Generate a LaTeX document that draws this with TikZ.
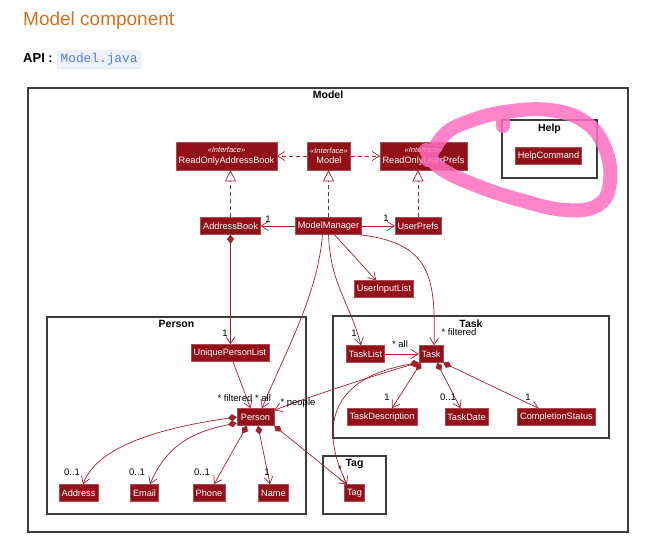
\documentclass[tikz,border=0pt]{standalone}
\usepackage{fontspec}
\setmainfont{Liberation Sans}
\setmonofont{Liberation Mono}
\usetikzlibrary{arrows.meta}

\definecolor{umlfill}{HTML}{911019}
\definecolor{umlline}{HTML}{A3202C}
\definecolor{pkgline}{HTML}{3C3C3C}
\definecolor{headorange}{HTML}{D9701E}
\definecolor{codeblue}{HTML}{4F7FDD}
\definecolor{codebg}{HTML}{EEF1FA}
\definecolor{codeframe}{HTML}{D9DEF0}
\definecolor{marker}{HTML}{FF6FBF}

\newcommand{\stereo}{{\fontsize{7.5}{8.5}\selectfont\itshape «Interface»}}

\tikzset{
  cls/.style={draw=umlfill!75!white, line width=0.5pt, fill=umlfill, text=white,
    font=\fontsize{9.2}{10.5}\selectfont, inner xsep=2.5pt, inner ysep=0pt, minimum height=17pt},
  iface/.style={cls, align=center, minimum height=28pt},
  pkg/.style={draw=pkgline, line width=1.2pt, inner sep=0pt},
  pkgtitle/.style={font=\bfseries\fontsize{10.5}{12}\selectfont, anchor=north, inner sep=1pt},
  mult/.style={font=\fontsize{9.5}{10}\selectfont, inner sep=0pt},
  assoc/.style={draw=umlline, line width=0.7pt, -{Straight Barb[length=7pt,width=9pt]}},
  comp/.style={assoc, {Diamond[length=9pt,width=7pt]}-{Straight Barb[length=7pt,width=9pt]}},
  dep/.style={assoc, dash pattern=on 4pt off 3pt},
  realize/.style={draw=umlline, line width=0.7pt, dash pattern=on 4pt off 3pt,
    -{Triangle[open,length=11pt,width=11pt]}},
}

\begin{document}
\begin{tikzpicture}[x=1pt,y=-1pt]
\useasboundingbox (0,0) rectangle (655,551);

% page header
\node[anchor=base west, inner sep=0pt, text=headorange, font=\fontsize{19}{22}\selectfont] (heading) at (23,26) {Model component};
\node[anchor=base west, inner sep=0pt, font=\bfseries\fontsize{13}{15}\selectfont] (api) at (23,63) {API :};
\node[anchor=base west, draw=codeframe, fill=codebg, rounded corners=2pt, text=codeblue,
  font=\ttfamily\fontsize{12.8}{14}\selectfont, inner xsep=3.5pt, inner ysep=3pt] (apifile) at (57,63) {Model.java};

% packages
\node[pkg, minimum width=600pt, minimum height=444pt] (modelpkg) at (328,310) {};
\node[pkg, minimum width=95pt, minimum height=58pt] (helppkg) at (549.5,149) {};
\node[pkg, minimum width=259pt, minimum height=197pt] (personpkg) at (176.5,415.5) {};
\node[pkg, minimum width=276pt, minimum height=122pt] (taskpkg) at (471,377) {};
\node[pkg, minimum width=63pt, minimum height=58pt] (tagpkg) at (354.5,485) {};

\node[pkgtitle] (modeltitle) at ([yshift=-2pt]modelpkg.north) {Model};
\node[pkgtitle] (helptitle) at ([yshift=-3pt]helppkg.north) {Help};
\node[pkgtitle] (persontitle) at ([yshift=-3pt]personpkg.north) {Person};
\node[pkgtitle] (tasktitle) at ([yshift=-3pt]taskpkg.north) {Task};
\node[pkgtitle] (tagtitle) at ([yshift=-3pt]tagpkg.north) {Tag};

% classes
\node[iface] (roab) at (226.5,156) {\stereo\\ReadOnlyAddressBook};
\node[iface] (imodel) at (329,156) {\stereo\\Model};
\node[iface] (roup) at (423.5,156) {\stereo\\ReadOnlyUserPrefs};
\node[cls] (helpcmd) at (548.5,156) {HelpCommand};

\node[cls] (addrbook) at (230.5,226) {AddressBook};
\node[cls] (mgr) at (328.5,226) {ModelManager};
\node[cls] (prefs) at (418,226) {UserPrefs};
\node[cls] (inputlist) at (384,289) {UserInputList};

\node[cls] (upl) at (230,353) {UniquePersonList};
\node[cls, minimum width=37pt] (person) at (255.5,417) {Person};
\node[cls] (address) at (78.5,493) {Address};
\node[cls] (email) at (144.5,493) {Email};
\node[cls] (phone) at (209,493) {Phone};
\node[cls] (pname) at (273.5,493) {Name};

\node[cls] (tasklist) at (365.5,354) {TaskList};
\node[cls] (task) at (431,354) {Task};
\node[cls] (taskdesc) at (382,417) {TaskDescription};
\node[cls] (taskdate) at (466.5,417) {TaskDate};
\node[cls] (cstatus) at (556.5,417) {CompletionStatus};

\node[cls] (tag) at (354.5,493) {Tag};

% interfaces
\draw[dep] (imodel.west) -- (roab.east);
\draw[dep] (imodel.east) -- (roup.west);
\draw[realize] (addrbook.north) -- (addrbook.north |- roab.south);
\draw[realize] (mgr.north) -- (mgr.north |- imodel.south);
\draw[realize] (prefs.north) -- (prefs.north |- roup.south);

% model manager
\draw[assoc] (mgr.west) -- (addrbook.east);
\draw[assoc] (mgr.east) -- (prefs.west);
\draw[assoc] ([xshift=-6pt]mgr.south) .. controls +(-5,60) and +(25,-60) .. ([xshift=6.5pt]person.north);
\draw[assoc] ([xshift=6pt]mgr.south) -- ([xshift=-8pt]inputlist.north);
\draw[assoc] (mgr.south) .. controls +(2,50) and +(-12,-45) .. ([xshift=-4.5pt]tasklist.north);
\draw[assoc] ([xshift=-2.5pt]mgr.south east) .. controls +(70,8) and +(2,-70) .. ([xshift=3pt]task.north);

% person
\draw[comp] (addrbook.south) -- (addrbook.south |- upl.north);
\draw[assoc] ([xshift=3pt]upl.south) -- ([xshift=-5pt]person.north);
\draw[comp] (person.west) .. controls +(-70,10) and +(15,-40) .. ([xshift=4.5pt]address.north);
\draw[comp] ([yshift=-6pt]person.west) .. controls +(-50,10) and +(15,-35) .. ([xshift=5.5pt]email.north);
\draw[comp] ([xshift=-8.5pt]person.south) -- ([xshift=5pt]phone.north);
\draw[comp] ([xshift=2.5pt]person.south) -- ([xshift=-3.5pt]pname.north);
\draw[comp] (person.south east) -- ([xshift=-8pt]tag.north);

% task
\draw[assoc] (tasklist.east) -- (task.west);
\draw[comp] (task.south west) .. controls +(-30,8) and +(30,-12) .. ([yshift=-2pt]person.north east);
\draw[comp] (task.south west) .. controls +(-95,16) and +(-25,-50) .. ([xshift=-7.5pt]tag.north);
\draw[comp] ([xshift=-10pt]task.south) -- ([xshift=10pt]taskdesc.north);
\draw[comp] ([xshift=6pt]task.south) -- ([xshift=-6pt]taskdate.north);
\draw[comp] (task.south east) -- ([xshift=-18pt]cstatus.north);

% multiplicities
\node[mult] (mAddrBook) at (268,219) {1};
\node[mult] (mPrefs) at (386,218) {1};
\node[mult] (mUpl) at (225,333) {1};
\node[mult] (mFiltered) at (235,398) {* filtered};
\node[mult] (mAll) at (263,398) {* all};
\node[mult] (mPeople) at (298,403) {* people};
\node[mult] (mAddress) at (72,472) {0..1};
\node[mult] (mEmail) at (137,472) {0..1};
\node[mult] (mPhone) at (202,472) {0..1};
\node[mult] (mName) at (267,472) {1};
\node[mult] (mTag) at (340,469) {*};
\node[mult] (mTaskList) at (354,333) {1};
\node[mult] (mTaskFiltered) at (459,332) {* filtered};
\node[mult] (mTaskAll) at (400,344) {* all};
\node[mult] (mDesc) at (387,397) {1};
\node[mult] (mDate) at (448,397) {0..1};
\node[mult] (mStatus) at (528,397) {1};

% highlighter
\draw[marker, opacity=0.85, line width=14pt, line cap=round, line join=round]
  plot[smooth, tension=0.7] coordinates {(428,160) (445,134) (470,121) (505,112) (550,110)
    (585,122) (605,148) (610,182) (598,205) (565,210) (520,200) (475,185) (440,168) (426,150)}
  (503,114) -- (503,126);

\end{tikzpicture}
\end{document}
